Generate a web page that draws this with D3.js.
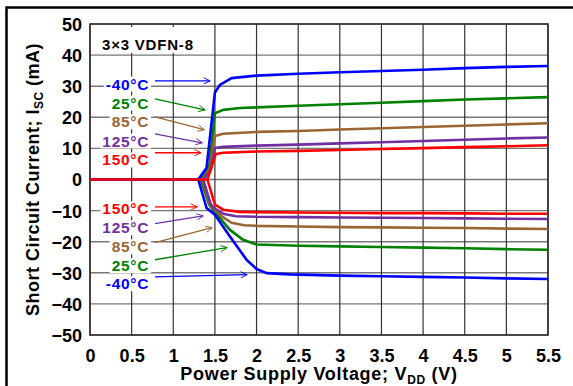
<!DOCTYPE html>
<html><head><meta charset="utf-8">
<script src="https://cdn.jsdelivr.net/npm/d3@7"></script>
<style>body{margin:0;background:#fff}svg{display:block}text{font-family:"Liberation Sans",Arial,sans-serif;font-weight:bold}</style>
</head><body>
<script>
// ---- data ----
const xTicks = [0,0.5,1,1.5,2,2.5,3,3.5,4,4.5,5,5.5];
const xTickLabels = ["0","0.5","1","1.5","2","2.5","3","3.5","4","4.5","5","5.5"];
const yTicks = [-50,-40,-30,-20,-10,0,10,20,30,40,50];
const seriesNames = ["-40°C","25°C","85°C","125°C","150°C"];
const seriesColors = ["#0000ff","#008000","#996633","#7030a0","#ff0000"];
// positive (source) branch [V, mA]
const posM40 = [[0,0],[1.3,0],[1.4,3.8],[1.5,28],[1.56,30.4],[1.7,32.6],[2,33.4],[2.5,34],[3,34.5],[3.5,34.9],[4,35.3],[4.5,35.8],[5,36.2],[5.5,36.5]];
const pos25  = [[0,0],[1.33,0],[1.43,4],[1.5,21.3],[1.6,22.4],[1.8,23],[2,23.2],[2.5,23.7],[3,24.2],[3.5,24.7],[4,25.2],[4.5,25.7],[5,26.1],[5.5,26.5]];
const pos85  = [[0,0],[1.35,0],[1.44,3.5],[1.5,14.0],[1.6,14.7],[2,15.3],[2.5,15.6],[3,16.1],[3.5,16.5],[4,16.9],[4.5,17.3],[5,17.7],[5.5,18.1]];
const pos125 = [[0,0],[1.36,0],[1.45,3],[1.5,10.1],[1.6,10.5],[2,10.9],[2.5,11.2],[3,11.6],[3.5,12.0],[4,12.4],[4.5,12.8],[5,13.2],[5.5,13.5]];
const pos150 = [[0,0],[1.41,0],[1.51,8.2],[1.6,8.6],[2,9.0],[2.5,9.2],[3,9.5],[3.5,9.8],[4,10.1],[4.5,10.4],[5,10.7],[5.5,11.0]];
// negative (sink) branch
const negM40 = [[1.3,0],[1.4,-9.2],[1.5,-11.3],[1.68,-18.3],[1.88,-25.8],[2,-28.8],[2.12,-30.1],[2.4,-30.5],[3,-30.9],[3.5,-31.1],[4,-31.3],[4.5,-31.5],[5,-31.8],[5.5,-32.0]];
const neg25  = [[1.33,0],[1.43,-8],[1.5,-10.5],[1.68,-16.2],[1.84,-19.4],[2,-20.9],[2.5,-21.3],[3,-21.5],[3.5,-21.7],[4,-21.9],[4.5,-22.1],[5,-22.4],[5.5,-22.6]];
const neg85  = [[1.35,0],[1.44,-8],[1.5,-9.8],[1.6,-12.2],[1.7,-13.9],[1.85,-14.7],[2,-14.9],[2.5,-15.1],[3,-15.3],[3.5,-15.4],[4,-15.5],[4.5,-15.6],[5,-15.8],[5.5,-15.9]];
const neg125 = [[1.36,0],[1.45,-8],[1.5,-9.4],[1.6,-11.0],[1.75,-11.8],[2,-12.0],[2.5,-12.1],[3,-12.2],[3.5,-12.3],[4,-12.4],[4.5,-12.5],[5,-12.6],[5.5,-12.7]];
const neg150 = [[1.41,0],[1.5,-8.1],[1.6,-9.7],[1.8,-10.4],[2,-10.5],[2.5,-10.6],[3,-10.7],[3.5,-10.8],[4,-10.8],[4.5,-10.9],[5,-11.0],[5.5,-11.0]];
// annotation labels [x V, y mA] and arrows [[x0,y0],[x1,y1]]
const topLabelPos = [[0.71,30.7],[0.71,24.6],[0.71,18.6],[0.71,12.4],[0.71,6.3]];
const topArrows = [[[0.78,31.7],[1.44,31.7]],[[0.78,25.9],[1.38,22.4]],[[0.78,20.1],[1.37,16.0]],[[0.78,14.7],[1.345,11.8]],[[0.78,8.6],[1.33,8.6]]];
const botLabelPos = [[0.71,-33.5],[0.71,-27.7],[0.71,-21.6],[0.71,-15.5],[0.71,-9.4]];
const botArrows = [[[0.78,-31.3],[1.885,-30.6]],[[0.78,-25.8],[1.645,-21.9]],[[0.78,-20.3],[1.465,-15.5]],[[0.78,-14.2],[1.357,-11.7]],[[0.78,-8.8],[1.285,-8.8]]];

const W=573,H=386;
const m={l:90,t:24,r:548,b:335};
const x=d3.scaleLinear().domain([0,5.5]).range([m.l,m.r]);
const y=d3.scaleLinear().domain([-50,50]).range([m.b,m.t]);
const svg=d3.select("body").append("svg").attr("width",W).attr("height",H);

// outer frame
svg.append("rect").attr("x",6.5).attr("y",7.5).attr("width",620).attr("height",420)
  .attr("fill","none").attr("stroke","#000").attr("stroke-width",2.5);

// grid
const g=svg.append("g");
g.selectAll(".hg").data(yTicks).join("line").attr("x1",m.l).attr("x2",m.r)
  .attr("y1",d=>y(d)).attr("y2",d=>y(d)).attr("stroke","#777").attr("stroke-width",1.4);
g.selectAll(".vg").data(xTicks).join("line").attr("y1",m.t).attr("y2",m.b)
  .attr("x1",d=>x(d)).attr("x2",d=>x(d)).attr("stroke","#333").attr("stroke-width",1.2);
svg.append("rect").attr("x",m.l).attr("y",m.t).attr("width",m.r-m.l).attr("height",m.b-m.t)
  .attr("fill","none").attr("stroke","#333").attr("stroke-width",1.6);

// axes (tick labels)
const yAxis=svg.append("g").attr("transform",`translate(${m.l},0)`)
  .call(d3.axisLeft(y).tickValues(yTicks).tickSize(0).tickPadding(8).tickFormat(d3.format("d")));
yAxis.select(".domain").remove();
yAxis.selectAll("text").attr("font-size",18).attr("font-family","Liberation Sans, Arial").attr("font-weight","bold").attr("fill","#000").attr("dy","0.36em");
const xAxis=svg.append("g").attr("transform",`translate(0,${m.b})`)
  .call(d3.axisBottom(x).tickValues(xTicks).tickSize(0).tickPadding(14).tickFormat((d,i)=>xTickLabels[i]));
xAxis.select(".domain").remove();
xAxis.selectAll("text").attr("font-size",18).attr("font-family","Liberation Sans, Arial").attr("font-weight","bold").attr("fill","#000");

// axis titles
const xt=svg.append("text").attr("x",(m.l+m.r)/2).attr("y",379.5).attr("text-anchor","middle").attr("font-size",18).attr("letter-spacing",0.7);
xt.append("tspan").text("Power Supply Voltage; V");
xt.append("tspan").attr("font-size",12).attr("dy",4).text("DD");
xt.append("tspan").attr("dy",-4).text(" (V)");
const yt=svg.append("text").attr("transform",`translate(39,${(m.t+m.b)/2}) rotate(-90)`).attr("text-anchor","middle").attr("font-size",18).attr("letter-spacing",0.5);
yt.append("tspan").text("Short Circuit Current; I");
yt.append("tspan").attr("font-size",12).attr("dy",4).text("SC");
yt.append("tspan").attr("dy",-4).text(" (mA)");

// package box
svg.append("rect").attr("x",m.l+1).attr("y",27).attr("width",110).attr("height",26).attr("fill","#fff");
svg.append("text").attr("x",102).attr("y",49.5).attr("font-size",15).attr("letter-spacing",0.8).text("3×3 VDFN-8");

// curves
const line=d3.line().x(d=>x(d[0])).y(d=>y(d[1]));
const pos=[posM40,pos25,pos85,pos125,pos150], neg=[negM40,neg25,neg85,neg125,neg150];
const order=[1,2,3,0,4];
order.forEach(i=>{
  [pos[i],neg[i]].forEach(dat=>{
    svg.append("path").datum(dat).attr("d",line).attr("fill","none")
      .attr("stroke",seriesColors[i]).attr("stroke-width",2.6).attr("stroke-linejoin","round");
  });
});

// labels with white background + arrows
seriesColors.forEach((c,i)=>{
  svg.append("defs").append("marker").attr("id","ar"+i).attr("viewBox","0 -5 10 10")
    .attr("refX",9).attr("refY",0).attr("markerWidth",9).attr("markerHeight",7).attr("markerUnits","userSpaceOnUse")
    .attr("orient","auto").append("path").attr("d","M0,-4.5L9.5,0L0,4.5").attr("fill","none").attr("stroke",c).attr("stroke-width",1.3);
});
function drawLabel(pos,i){
  const t=svg.append("text").attr("x",x(pos[0])).attr("y",y(pos[1])).attr("dy","0.36em")
    .attr("text-anchor","end").attr("font-size",15.5).attr("letter-spacing",0.7).attr("fill",seriesColors[i]).text(seriesNames[i]);
  const bb=t.node().getBBox();
  svg.insert("rect",()=>t.node()).attr("x",bb.x-2).attr("y",bb.y+1).attr("width",bb.width+4).attr("height",bb.height-2).attr("fill","#fff");
}
function drawArrow(a,i){
  svg.append("line").attr("x1",x(a[0][0])).attr("y1",y(a[0][1])).attr("x2",x(a[1][0])).attr("y2",y(a[1][1]))
    .attr("stroke",seriesColors[i]).attr("stroke-width",1.3).attr("marker-end",`url(#ar${i})`);
}
seriesNames.forEach((n,i)=>{drawLabel(topLabelPos[i],i);drawArrow(topArrows[i],i);drawLabel(botLabelPos[i],i);drawArrow(botArrows[i],i);});
</script>
</body></html>
